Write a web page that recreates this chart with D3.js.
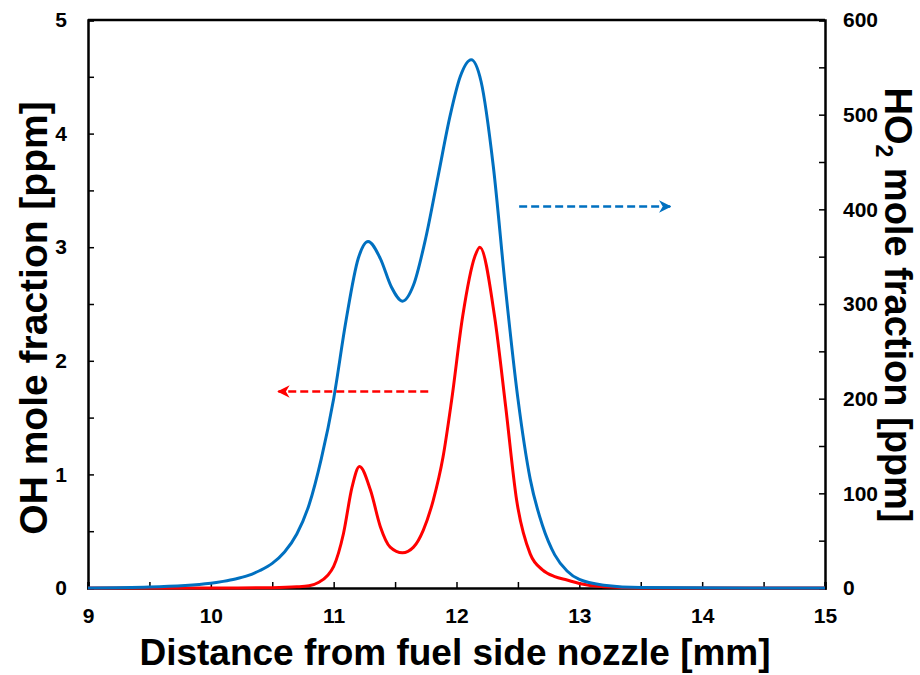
<!DOCTYPE html>
<html>
<head>
<meta charset="utf-8">
<script src="https://cdn.jsdelivr.net/npm/d3@7"></script>
<style>
  body { margin: 0; background: #fff; }
  svg text { font-family: "Liberation Sans", Arial, sans-serif; font-weight: bold; }
</style>
</head>
<body>
<figure id="chart" style="margin:0"></figure>
<script>
// Distance from fuel side nozzle [mm]
const ohX = [9, 10, 10.5, 10.7, 10.8, 10.88, 10.95, 11.0, 11.08, 11.15, 11.21, 11.3, 11.38, 11.46, 11.56, 11.65,
  11.73, 11.81, 11.89, 11.96, 12.05, 12.15, 12.19, 12.31, 12.4, 12.49, 12.6, 12.7, 12.8, 12.9, 13.0, 13.2, 13.5, 15];
// OH mole fraction [ppm] (left axis)
const ohVals = [0, 0, 0.003, 0.01, 0.02, 0.05, 0.11, 0.19, 0.48, 0.89, 1.07, 0.86, 0.54, 0.36, 0.31, 0.36,
  0.51, 0.77, 1.15, 1.65, 2.39, 2.92, 3.0, 2.39, 1.6, 0.77, 0.3, 0.16, 0.1, 0.07, 0.04, 0.01, 0, 0];

const ho2X = [9, 9.5, 10, 10.1, 10.2, 10.3, 10.4, 10.5, 10.6, 10.7, 10.8, 10.9, 11.0, 11.1, 11.2, 11.28, 11.38, 11.47,
  11.56, 11.65, 11.75, 11.85, 11.95, 12.03, 12.12, 12.2, 12.3, 12.4, 12.5, 12.6, 12.7, 12.8, 12.9, 13.0,
  13.2, 13.5, 15];
// HO2 mole fraction [ppm] (right axis)
const ho2Vals = [0, 1, 5, 7, 9.5, 13, 18.5, 26, 38, 57, 88, 137, 200, 282, 348, 366, 348, 318,
  303, 320, 370, 435, 500, 540, 558, 535, 445, 315, 200, 115, 66, 35, 18, 9,
  3, 0.5, 0];

const xTicks = [9, 10, 11, 12, 13, 14, 15];
const yLeftTicks = [0, 1, 2, 3, 4, 5];
const yRightTicks = [0, 100, 200, 300, 400, 500, 600];

const margin = { top: 20, right: 95, bottom: 87, left: 88 };
const W = 920, H = 675;
const width = W - margin.left - margin.right;
const height = H - margin.top - margin.bottom;

const svg = d3.select('#chart').append('svg')
  .attr('width', W).attr('height', H);

const defs = svg.append('defs');
[['arrRed', '#FF0000'], ['arrBlue', '#0070C0']].forEach(([id, c]) => {
  defs.append('marker')
    .attr('id', id).attr('viewBox', '0 0 10 10')
    .attr('refX', 9).attr('refY', 5)
    .attr('markerWidth', 5).attr('markerHeight', 5)
    .attr('markerUnits', 'strokeWidth')
    .attr('orient', 'auto')
    .append('path').attr('d', 'M0,0 L10,5 L0,10 L3,5 Z').attr('fill', c);
});

const g = svg.append('g').attr('transform', `translate(${margin.left},${margin.top})`);

const x = d3.scaleLinear().domain([9, 15]).range([0, width]);
const yL = d3.scaleLinear().domain([0, 5]).range([height, 0]);
const yR = d3.scaleLinear().domain([0, 600]).range([height, 0]);

// Inward ticks, minor ones on the half steps
const xAxis = d3.axisBottom(x).tickValues(d3.range(9, 15.01, 0.5)).tickSize(-6)
  .tickFormat(d => xTicks.includes(d) ? d : '');
const yAxisL = d3.axisLeft(yL).tickValues(d3.range(0, 5.01, 0.5)).tickSize(-6)
  .tickFormat(d => yLeftTicks.includes(d) ? d : '');
const yAxisR = d3.axisRight(yR).tickValues(d3.range(0, 601, 50)).tickSize(-6)
  .tickFormat(d => yRightTicks.includes(d) ? d : '');

// top frame line
g.append('line').attr('x1', 0).attr('x2', width).attr('y1', 0).attr('y2', 0)
  .attr('stroke', '#000').attr('stroke-width', 2.5);

function styleAxis(sel) {
  sel.select('.domain').attr('stroke', '#000').attr('stroke-width', 2.5);
  sel.selectAll('.tick line').attr('stroke', '#000').attr('stroke-width', 1.5);
  sel.selectAll('text').attr('font-size', 21).attr('fill', '#000');
}

const line = (xs, yScale) => d3.line()
  .x((d, i) => x(xs[i]))
  .y(d => yScale(d))
  .curve(d3.curveMonotoneX);

const gx = g.append('g').attr('transform', `translate(0,${height})`).call(xAxis);
styleAxis(gx);
gx.selectAll('text').attr('y', 35).attr('dy', 0);

const gl = g.append('g').call(yAxisL);
styleAxis(gl);
gl.selectAll('text').attr('x', -21);

const gr = g.append('g').attr('transform', `translate(${width},0)`).call(yAxisR);
styleAxis(gr);
gr.selectAll('text').attr('x', 18);

g.append('path').datum(ohVals)
  .attr('d', line(ohX, yL))
  .attr('fill', 'none').attr('stroke', '#FF0000').attr('stroke-width', 3);

g.append('path').datum(ho2Vals)
  .attr('d', line(ho2X, yR))
  .attr('fill', 'none').attr('stroke', '#0070C0').attr('stroke-width', 3);

// arrows pointing to each curve's axis
g.append('line')
  .attr('x1', x(11.77)).attr('x2', x(10.55))
  .attr('y1', yL(1.73)).attr('y2', yL(1.73))
  .attr('stroke', '#FF0000').attr('stroke-width', 2.5)
  .attr('stroke-dasharray', '8,4')
  .attr('marker-end', 'url(#arrRed)');

g.append('line')
  .attr('x1', x(12.51)).attr('x2', x(13.74))
  .attr('y1', yR(403)).attr('y2', yR(403))
  .attr('stroke', '#0070C0').attr('stroke-width', 2.5)
  .attr('stroke-dasharray', '8,4')
  .attr('marker-end', 'url(#arrBlue)');

// axis titles
svg.append('text')
  .attr('x', 455).attr('y', 665)
  .attr('text-anchor', 'middle').attr('font-size', 37)
  .text('Distance from fuel side nozzle [mm]');

svg.append('text')
  .attr('transform', `translate(47,318) rotate(-90)`)
  .attr('text-anchor', 'middle').attr('font-size', 39)
  .text('OH mole fraction [ppm]');

const rt = svg.append('text')
  .attr('transform', `translate(885,305) rotate(90)`)
  .attr('text-anchor', 'middle').attr('font-size', 38);
rt.append('tspan').text('HO');
rt.append('tspan').attr('font-size', 23).attr('dy', 9).text('2');
rt.append('tspan').attr('dy', -9).text(' mole fraction [ppm]');
</script>
</body>
</html>
